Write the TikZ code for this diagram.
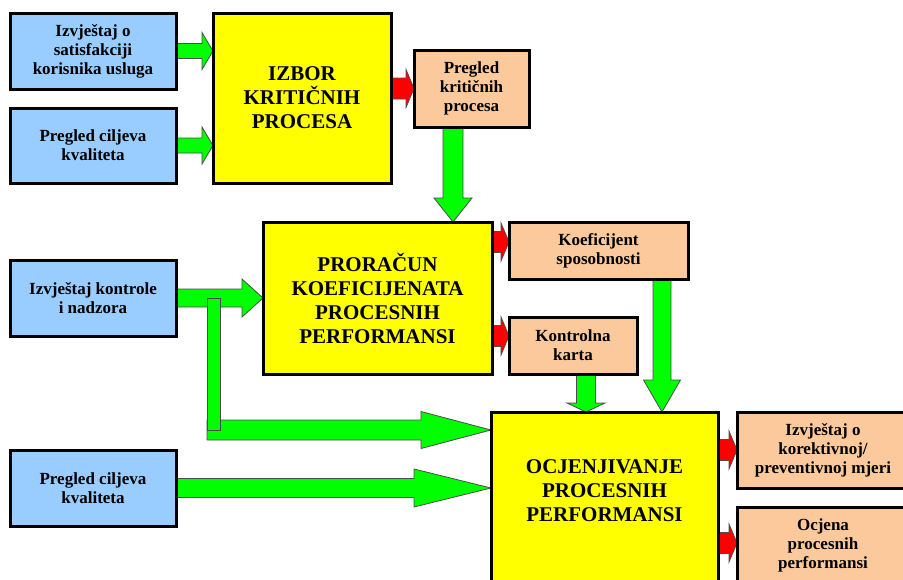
\documentclass[tikz,border=0pt]{standalone}
\usepackage{fontspec}
\setmainfont{Liberation Serif}
\usetikzlibrary{calc,backgrounds}

\definecolor{boxblue}{HTML}{99CCFF}
\definecolor{boxpeach}{HTML}{FBC99B}
\definecolor{boxyellow}{HTML}{FFFF00}
\definecolor{arrgreen}{HTML}{00FF00}
\definecolor{arrred}{HTML}{FF0000}

\tikzset{
  box/.style={draw=black, line width=3pt, inner sep=0pt, outer sep=0pt, align=center,
    anchor=north west, font=\fontsize{17}{19}\selectfont\bfseries},
  inbox/.style={box, fill=boxblue},
  outbox/.style={box, fill=boxpeach},
  stagebox/.style={box, fill=boxyellow, font=\fontsize{21}{24}\selectfont\bfseries},
  arrline/.style={draw=black!70, line width=0.8pt, line join=miter}
}

% block arrow to the right: colour, from, to, shaft half, head half, head length
\newcommand{\rarrow}[6]{%
  \filldraw[arrline, fill=#1] let \p1=#2, \p2=#3 in
    (\x1,\y2+#4pt) -- (\x2-#6pt,\y2+#4pt) -- (\x2-#6pt,\y2+#5pt) -- (\x2,\y2)
    -- (\x2-#6pt,\y2-#5pt) -- (\x2-#6pt,\y2-#4pt) -- (\x1,\y2-#4pt) -- cycle;}
% block arrow downwards
\newcommand{\darrow}[6]{%
  \filldraw[arrline, fill=#1] let \p1=#2, \p2=#3 in
    (\x1-#4pt,\y1) -- (\x1-#4pt,\y2+#6pt) -- (\x1-#5pt,\y2+#6pt) -- (\x1,\y2)
    -- (\x1+#5pt,\y2+#6pt) -- (\x1+#4pt,\y2+#6pt) -- (\x1+#4pt,\y1) -- cycle;}

\begin{document}
\begin{tikzpicture}[x=1pt,y=-1pt]
\clip (0,0) rectangle (903,579);

\node[inbox, minimum width=166pt, minimum height=76pt] (sat) at (10,13) {Izvještaj o\\satisfakciji\\korisnika usluga};
\node[inbox, minimum width=166pt, minimum height=75pt] (cilj1) at (10,108) {Pregled ciljeva\\kvaliteta};
\node[inbox, minimum width=166pt, minimum height=76pt] (kontrole) at (10,260) {Izvještaj kontrole\\i nadzora};
\node[inbox, minimum width=166pt, minimum height=76pt] (cilj2) at (10,450) {Pregled ciljeva\\kvaliteta};

\node[stagebox, minimum width=178pt, minimum height=170pt] (izbor) at (213,13) {IZBOR\\KRITIČNIH\\PROCESA};
\node[stagebox, minimum width=229pt, minimum height=152pt] (proracun) at (263,222) {PRORAČUN\\KOEFICIJENATA\\PROCESNIH\\PERFORMANSI};
\node[stagebox, minimum width=227pt] (ocj) at (491,412)
  {\parbox[t][200pt][t]{220pt}{\centering\vspace*{48pt}OCJENJIVANJE\\PROCESNIH\\PERFORMANSI}};

\node[outbox, minimum width=115pt, minimum height=77pt] (pkp) at (414,50) {Pregled\\kritičnih\\procesa};
\node[outbox, minimum width=179pt, minimum height=57pt] (koef) at (509,222) {Koeficijent\\sposobnosti};
\node[outbox, minimum width=128pt, minimum height=57pt] (karta) at (509,317) {Kontrolna\\karta};
\node[outbox, minimum width=172pt, minimum height=76pt] (izv) at (737,412) {Izvještaj o\\korektivnoj/\\preventivnoj mjeri};
\node[outbox, minimum width=172pt, minimum height=76pt] (ocjena) at (737,507) {Ocjena\\procesnih\\performansi};

\coordinate (split) at ($(kontrole.east)+(37.5,0)$);
\coordinate (merge) at ($(ocj.north west)+(0,18)$);

\begin{scope}[on background layer]
\rarrow{arrgreen}{(sat.east)}{(izbor.west |- sat.east)}{7.5}{18.5}{11}
\rarrow{arrgreen}{(cilj1.east)}{(izbor.west |- cilj1.east)}{7.5}{18.5}{11}
\rarrow{arrred}{(izbor.east)}{(pkp.west)}{10.5}{19}{8}
\darrow{arrgreen}{($(pkp.south west)+(39,0)$)}{(proracun.north)}{10}{19}{24}
\rarrow{arrgreen}{(kontrole.east)}{(proracun.west)}{9}{19}{21}
\rarrow{arrred}{(proracun.east)}{($(koef.north west)+(0,20)$)}{10.5}{19}{8}
\rarrow{arrred}{(proracun.east)}{($(karta.north west)+(0,19)$)}{10.5}{19}{8}
\darrow{arrgreen}{($(karta.south west)+(77,0)$)}{(ocj.north)}{9.5}{19}{9}
\darrow{arrgreen}{($(koef.south west)+(153,0)$)}{(ocj.north)}{9}{18.5}{32}
\rarrow{arrgreen}{($(split)+(-6.5,0)$)}{(merge)}{10}{18.5}{70}
\filldraw[arrline, fill=arrgreen] let \p1=(split), \p2=(merge) in
  (\x1-6.5pt,\y1) rectangle (\x1+6.5pt,\y2);
\rarrow{arrgreen}{(cilj2.east)}{(ocj.west |- cilj2.east)}{9.5}{19}{77}
\rarrow{arrred}{(ocj.east)}{(izv.west)}{10.5}{19}{8}
\rarrow{arrred}{(ocj.east)}{($(ocjena.north west)+(0,36)$)}{10.5}{19}{8}
\end{scope}
\end{tikzpicture}
\end{document}
